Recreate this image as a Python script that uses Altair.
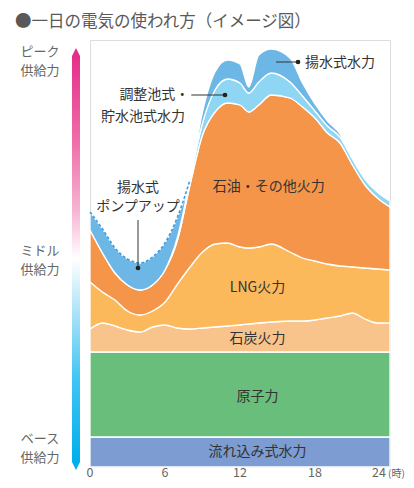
import altair as alt
import pandas as pd

# ---------------- data ----------------
hours = [0, 1, 2, 3, 4, 5, 6, 7, 8, 9, 10, 11, 12, 12.7, 13.5, 14.5, 16, 17, 18, 19, 20, 21, 22, 23, 24]

layer_names = ["流れ込み式水力", "原子力", "石炭火力", "LNG火力", "石油・その他火力",
               "調整池式・貯水池式水力", "揚水式水力"]
layer_colors = ["#7c9cd2", "#69be7b", "#f9c48c", "#fbb95b", "#f5954a", "#8fd6f5", "#6db7e6"]

run_of_river = [30, 30, 30, 30, 30, 30, 30, 30, 30, 30, 30, 30, 30, 30, 30, 30, 30, 30, 30, 30, 30, 30, 30, 30, 30]
nuclear = [85, 85, 85, 85, 85, 85, 85, 85, 85, 85, 85, 85, 85, 85, 85, 85, 85, 85, 85, 85, 85, 85, 85, 85, 85]
coal = [23, 29, 26, 22, 20, 25, 27, 24, 23, 24, 25, 26, 27, 28, 29, 30, 31, 31, 32, 34, 36, 39, 33, 29, 29]
lng = [47, 31, 26, 19, 17, 16, 23, 44, 62, 76, 83, 83, 78, 76, 76, 78, 69, 63, 59, 54, 50, 46, 51, 54, 53]
oil = [52, 39, 27, 26, 25, 26, 32, 44, 82, 117, 132, 140, 142, 136, 142, 149, 154, 151, 143, 131, 123, 102, 83, 71, 63]
reservoir = [0, 0, 0, 0, 0, 0, 0, 3, 5, 12, 22, 24, 22, 19, 23, 22, 16, 11, 7, 7, 6, 6, 6, 6, 6]
pumped = [18, 24, 25, 26, 27, 28, 27, 20, 0, 11, 18, 19, 19, 6, 27, 24, 24, 13, 7, 5, 3, 0, 0, 0, 0]

series = [run_of_river, nuclear, coal, lng, oil, reservoir, pumped]

tick_values = [0, 6, 12, 18]
tick_labels = ["0", "6", "12", "18"]
last_tick_value = 24
last_tick_label = "24"
unit_label = "(時)"

# in-chart labels (hour, value)
center_labels = ["流れ込み式水力", "原子力", "石炭火力", "LNG火力", "石油・その他火力", "揚水式", "ポンプアップ"]
center_hours = [13.4, 13.4, 13.4, 13.4, 14.3, 3.84, 3.84]
center_values = [15, 70, 128, 179, 280, 279, 260]

right_labels = ["調整池式・", "貯水池式水力"]
right_hours = [7.95, 7.6]
right_values = [372, 350]

left_labels = ["揚水式水力"]
left_hours = [17.2]
left_values = [404]

lead_h1 = [8.1, 14.88, 3.84]
lead_h2 = [10.8, 16.64, 3.84]
lead_v1 = [372, 405, 247]
lead_v2 = [372, 405, 199]

side_labels = ["ピーク", "供給力", "ミドル", "供給力", "ベース", "供給力"]
side_y = [12, 31, 211, 230, 399, 418]

title_text = "●一日の電気の使われ方（イメージ図）"

# ---------------- tables ----------------
rows = []
for k, (name, vals) in enumerate(zip(layer_names, series)):
    for h, v in zip(hours, vals):
        rows.append({"hour": h, "value": v, "layer": name, "order": k})
df = pd.DataFrame(rows)

n_night = 9  # hours 0..8 (pump-up period)
night = pd.DataFrame({
    "hour": hours[:n_night],
    "value": [sum(s[i] for s in series) for i in range(n_night)],
})

FONT = "Noto Sans CJK JP"
x_scale = alt.Scale(domain=[0, 24], nice=False, zero=False)
y_scale = alt.Scale(domain=[0, 427], nice=False, zero=True)


def X(field="hour"):
    return alt.X(f"{field}:Q", scale=x_scale, axis=None)


def Y(field="value", stack=None):
    if stack:
        return alt.Y(f"{field}:Q", scale=y_scale, axis=None, stack=stack)
    return alt.Y(f"{field}:Q", scale=y_scale, axis=None)


areas = alt.Chart(df).mark_area(interpolate="monotone", stroke="white", strokeWidth=1.3).encode(
    x=X(),
    y=Y(stack="zero"),
    color=alt.Color("layer:N", scale=alt.Scale(domain=layer_names, range=layer_colors), legend=None),
    order=alt.Order("order:Q", sort="ascending"),
)

dashed = alt.Chart(night).mark_line(interpolate="monotone", color="#3a9de0",
                                    strokeDash=[3, 2], strokeWidth=1.6).encode(x=X(), y=Y())

lead_df = pd.DataFrame({"h1": lead_h1, "h2": lead_h2, "v1": lead_v1, "v2": lead_v2})
leaders = alt.Chart(lead_df).mark_rule(color="#333333", strokeWidth=1).encode(
    x=X("h1"), x2="h2:Q", y=Y("v1"), y2="v2:Q")
dots = alt.Chart(lead_df).mark_circle(size=22, color="#222222", opacity=1).encode(
    x=X("h2"), y=Y("v2"))


def text_layer(labels, hs, vs, align):
    d = pd.DataFrame({"label": labels, "hour": hs, "value": vs})
    return alt.Chart(d).mark_text(font=FONT, fontSize=14, color="#333333", align=align,
                                  baseline="middle").encode(x=X(), y=Y(), text="label:N")


t_center = text_layer(center_labels, center_hours, center_values, "center")
t_right = text_layer(right_labels, right_hours, right_values, "right")
t_left = text_layer(left_labels, left_hours, left_values, "left")

# x tick labels (drawn as text so the last one can carry the unit)
ticks_df = pd.DataFrame({"hour": tick_values, "label": tick_labels})
ticks = alt.Chart(ticks_df).mark_text(font=FONT, fontSize=12.5, color="#666666", align="center",
                                      baseline="middle").encode(
    x=X(), y=alt.value(433), text="label:N")
last_df = pd.DataFrame({"hour": [last_tick_value], "label": [last_tick_label], "unit": [unit_label]})
last_tick = alt.Chart(last_df).mark_text(font=FONT, fontSize=12.5, color="#666666", align="right",
                                         baseline="middle", dx=-4).encode(
    x=X(), y=alt.value(433), text="label:N")
unit = alt.Chart(last_df).mark_text(font=FONT, fontSize=10, color="#666666", align="left",
                                    baseline="middle", dx=-2).encode(
    x=X(), y=alt.value(434), text="unit:N")

one = pd.DataFrame({"a": [0]})
gradient = alt.LinearGradient(
    gradient="linear", x1=0, x2=0, y1=0, y2=1,
    stops=[
        alt.GradientStop(offset=0, color="#e5308a"),
        alt.GradientStop(offset=0.2, color="#ee6aa6"),
        alt.GradientStop(offset=0.38, color="#f6b4d3"),
        alt.GradientStop(offset=0.5, color="#ffffff"),
        alt.GradientStop(offset=0.62, color="#b3e5f9"),
        alt.GradientStop(offset=0.8, color="#3ec4f2"),
        alt.GradientStop(offset=1, color="#00afec"),
    ],
)
bar = alt.Chart(one).mark_rect(color=gradient).encode(
    x=alt.value(-18), x2=alt.value(-10), y=alt.value(16), y2=alt.value(422))
tip_up = alt.Chart(one).mark_point(shape="M -1 1 L 0 -1 L 1 1 Z", filled=True, size=64,
                                   color="#e5308a", opacity=1, strokeWidth=0).encode(
    x=alt.value(-14), y=alt.value(12))
tip_down = alt.Chart(one).mark_point(shape="M -1 -1 L 0 1 L 1 -1 Z", filled=True, size=64,
                                     color="#00afec", opacity=1, strokeWidth=0).encode(
    x=alt.value(-14), y=alt.value(426))

side_df = pd.DataFrame({"label": side_labels, "py": side_y})
side = alt.Chart(side_df).mark_text(font=FONT, fontSize=13, color="#666666", align="center",
                                    baseline="middle").encode(
    x=alt.value(-50), y=alt.Y("py:Q", scale=None, axis=None), text="label:N")

title = alt.Chart(one).mark_text(font=FONT, fontSize=16.5, color="#595959", align="left",
                                 baseline="middle", text=title_text).encode(
    x=alt.value(-75), y=alt.value(-18.5))

chart = alt.layer(
    areas, dashed, leaders, dots, t_center, t_right, t_left,
    ticks, last_tick, unit,
    bar, tip_up, tip_down, side, title,
).properties(
    width=300, height=427,
    autosize=alt.AutoSizeParams(type="none"),
    padding={"left": 82, "top": 32, "right": 16, "bottom": 13},
).configure_view(stroke=None).configure(font=FONT)

chart.save("out.html", embed_options={"renderer": "svg", "actions": False})
